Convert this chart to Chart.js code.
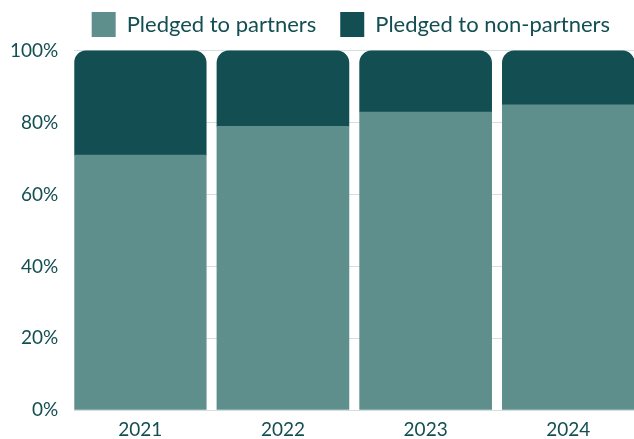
<!DOCTYPE html>
<html>
<head>
<meta charset="utf-8">
<script src="https://cdn.jsdelivr.net/npm/chart.js@4"></script>
<style>
html,body{margin:0;padding:0;background:#fff;}
#wrap{width:634px;height:439px;}
</style>
</head>
<body>
<div id="wrap"><canvas id="c"></canvas></div>
<script>
const categories = ["2021", "2022", "2023", "2024"];
const partners = [71, 79, 83, 85];
const nonPartners = [29, 21, 17, 15];
const yTicks = [0, 20, 40, 60, 80, 100];

const textColor = "#134e52";
Chart.defaults.font.family = "Lato, 'Noto Sans', sans-serif";
Chart.defaults.color = textColor;

const toPoints = (vals) => vals.map((v, i) => ({x: i, y: v}));

new Chart(document.getElementById("c"), {
  type: "bar",
  data: {
    datasets: [
      {
        label: "Pledged to partners",
        data: toPoints(partners),
        backgroundColor: "#5e8f8d",
        borderWidth: 0,
        borderRadius: 0,
        borderSkipped: false
      },
      {
        label: "Pledged to non-partners",
        data: toPoints(nonPartners),
        backgroundColor: "#134e52",
        borderWidth: 0,
        borderRadius: {topLeft: 12, topRight: 12, bottomLeft: 0, bottomRight: 0},
        borderSkipped: false
      }
    ]
  },
  options: {
    responsive: true,
    maintainAspectRatio: false,
    animation: false,
    layout: {padding: {left: -6, right: 0, top: -12, bottom: -10}},
    datasets: {bar: {barThickness: 132}},
    plugins: {
      legend: {
        position: "top",
        align: "end",
        fullSize: true,
        labels: {
          boxWidth: 24,
          boxHeight: 25,
          padding: 24,
          color: textColor,
          font: {size: 22}
        }
      },
      tooltip: {enabled: false}
    },
    scales: {
      x: {
        type: "linear",
        stacked: true,
        offset: false,
        min: -0.462,
        max: 3.46,
        afterBuildTicks: (axis) => { axis.ticks = categories.map((c, i) => ({value: i})); },
        grid: {display: false, drawTicks: false, offset: false},
        border: {display: false},
        ticks: {
          color: textColor,
          font: {size: 19, lineHeight: 1},
          padding: 10,
          callback: (v) => categories[v]
        }
      },
      y: {
        stacked: true,
        min: 0,
        max: 101.1,
        afterBuildTicks: (axis) => { axis.ticks = yTicks.map(v => ({value: v})); },
        grid: {color: "#d3dfdf", drawTicks: false},
        border: {display: false},
        ticks: {
          color: textColor,
          font: {size: 19},
          padding: 16,
          callback: (v) => v + "%"
        }
      }
    }
  }
});
</script>
</body>
</html>
